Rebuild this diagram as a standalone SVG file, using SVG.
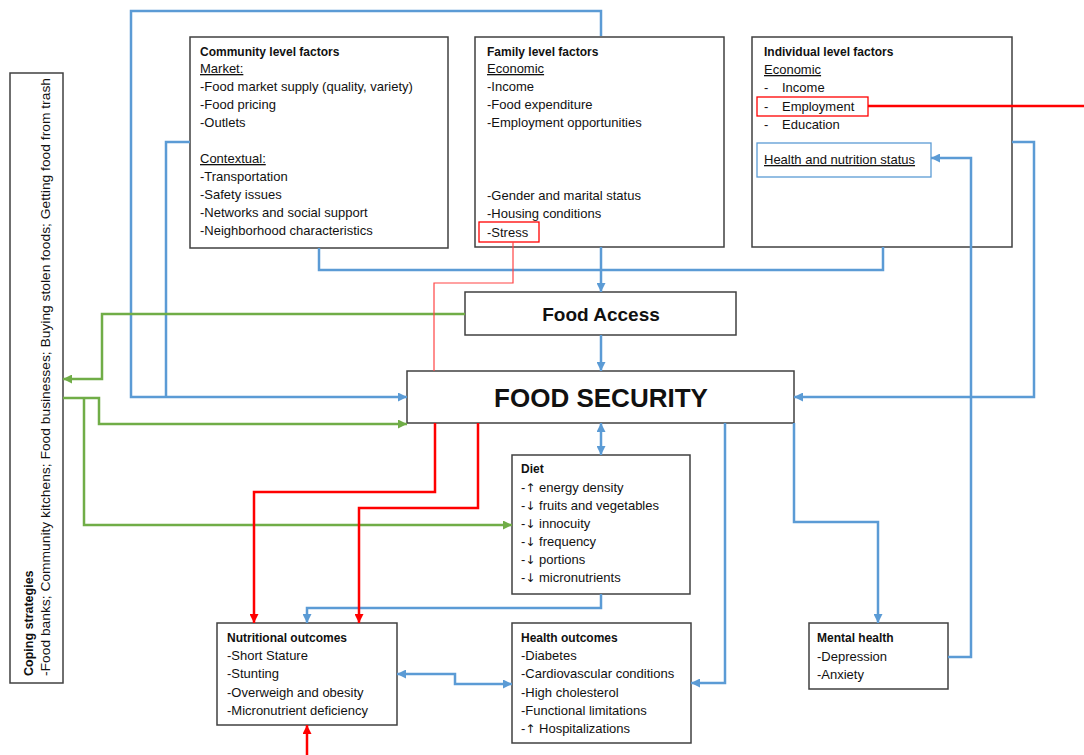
<svg xmlns="http://www.w3.org/2000/svg" width="1084" height="755" viewBox="0 0 1084 755">
<style>
text{font-family:"Liberation Sans",Arial,sans-serif;font-size:13px;fill:#111}
.b{font-weight:bold;font-size:12px}
.u{text-decoration:underline}
.ar{font-family:"DejaVu Sans",sans-serif;font-size:12px}
.box{fill:#fff;stroke:#404040;stroke-width:1.5}
.bl{fill:none;stroke:#5B9BD5;stroke-width:2.5}
.gr{fill:none;stroke:#70AD47;stroke-width:2.5}
.rd{fill:none;stroke:#FF0000;stroke-width:2.5}
.rt{fill:none;stroke:#FF4444;stroke-width:1.2}
</style>
<defs>
<marker id="ab" viewBox="0 0 10 10" refX="10" refY="5" markerWidth="9" markerHeight="9" markerUnits="userSpaceOnUse" orient="auto-start-reverse"><path d="M0,0 L10,5 L0,10 z" fill="#5B9BD5"/></marker>
<marker id="ag" viewBox="0 0 10 10" refX="10" refY="5" markerWidth="9" markerHeight="9" markerUnits="userSpaceOnUse" orient="auto-start-reverse"><path d="M0,0 L10,5 L0,10 z" fill="#70AD47"/></marker>
<marker id="ar" viewBox="0 0 10 10" refX="10" refY="5" markerWidth="9" markerHeight="9" markerUnits="userSpaceOnUse" orient="auto-start-reverse"><path d="M0,0 L10,5 L0,10 z" fill="#FF0000"/></marker>
</defs>
<rect width="1084" height="755" fill="#fff"/>

<g id="coping">
<rect class="box" x="10" y="73" width="53" height="610"/>
<text class="b" transform="translate(33,676) rotate(-90)" style="font-size:12.5px">Coping strategies</text>
<text transform="translate(50,676) rotate(-90)" textLength="598" lengthAdjust="spacingAndGlyphs">-Food banks; Community kitchens; Food businesses;  Buying stolen foods; Getting food from trash</text>
</g>

<g id="community">
<rect class="box" x="190" y="37" width="258" height="211"/>
<text class="b" x="200" y="56">Community level factors</text>
<text class="u" x="200" y="73">Market:</text>
<text x="200" y="91">-Food market supply (quality, variety)</text>
<text x="200" y="109">-Food pricing</text>
<text x="200" y="127">-Outlets</text>
<text class="u" x="200" y="163">Contextual:</text>
<text x="200" y="181">-Transportation</text>
<text x="200" y="199">-Safety issues</text>
<text x="200" y="217">-Networks and social support</text>
<text x="200" y="235">-Neighborhood characteristics</text>
</g>

<g id="family">
<rect class="box" x="475" y="37" width="249" height="210"/>
<text class="b" x="487" y="56">Family level factors</text>
<text class="u" x="487" y="73">Economic</text>
<text x="487" y="91">-Income</text>
<text x="487" y="109">-Food expenditure</text>
<text x="487" y="127">-Employment opportunities</text>
<text x="487" y="200">-Gender and marital status</text>
<text x="487" y="218">-Housing conditions</text>
<rect x="479" y="222" width="60" height="20" fill="none" stroke="#FF0000" stroke-width="1.3"/>
<text x="487" y="237">-Stress</text>
</g>

<g id="individual">
<rect class="box" x="752" y="37" width="260" height="210"/>
<text class="b" x="764" y="56">Individual level factors</text>
<text class="u" x="764" y="74">Economic</text>
<text x="764" y="92">-</text><text x="782" y="92">Income</text>
<rect x="757" y="97" width="111" height="19" fill="none" stroke="#FF0000" stroke-width="1.3"/>
<text x="764" y="111">-</text><text x="782" y="111">Employment</text>
<text x="764" y="129">-</text><text x="782" y="129">Education</text>
<rect x="757" y="143" width="174" height="34" fill="#fff" stroke="#5B9BD5" stroke-width="1.3"/>
<text class="u" x="764" y="164">Health and nutrition status</text>
</g>

<g id="food-access">
<rect class="box" x="465" y="292" width="271" height="43"/>
<text class="b" x="601" y="321" text-anchor="middle" style="font-size:19px">Food Access</text>
</g>

<g id="food-security">
<rect class="box" x="407" y="371" width="387" height="52"/>
<text class="b" x="601" y="407" text-anchor="middle" style="font-size:26px">FOOD SECURITY</text>
</g>

<g id="diet">
<rect class="box" x="512" y="455" width="178" height="139"/>
<text class="b" x="521" y="473">Diet</text>
<text x="521" y="492">-<tspan class="ar">↑</tspan> energy density</text>
<text x="521" y="510">-<tspan class="ar">↓</tspan> fruits and vegetables</text>
<text x="521" y="528">-<tspan class="ar">↓</tspan> innocuity</text>
<text x="521" y="546">-<tspan class="ar">↓</tspan> frequency</text>
<text x="521" y="564">-<tspan class="ar">↓</tspan> portions</text>
<text x="521" y="582">-<tspan class="ar">↓</tspan> micronutrients</text>
</g>

<g id="nutritional">
<rect class="box" x="217" y="623" width="180" height="102"/>
<text class="b" x="227" y="642">Nutritional outcomes</text>
<text x="227" y="660">-Short Stature</text>
<text x="227" y="678">-Stunting</text>
<text x="227" y="697">-Overweigh and obesity</text>
<text x="227" y="715">-Micronutrient deficiency</text>
</g>

<g id="health">
<rect class="box" x="512" y="623" width="179" height="120"/>
<text class="b" x="521" y="642">Health outcomes</text>
<text x="521" y="660">-Diabetes</text>
<text x="521" y="678">-Cardiovascular  conditions</text>
<text x="521" y="697">-High cholesterol</text>
<text x="521" y="715">-Functional limitations</text>
<text x="521" y="733">-<tspan class="ar">↑</tspan> Hospitalizations</text>
</g>

<g id="mental">
<rect class="box" x="809" y="623" width="139" height="66"/>
<text class="b" x="817" y="642">Mental health</text>
<text x="817" y="661">-Depression</text>
<text x="817" y="679">-Anxiety</text>
</g>

<g id="connectors">
<path class="bl" d="M601,36 V11 H131 V397 H407" marker-end="url(#ab)"/>
<path class="bl" d="M190,142 H166 V397"/>
<path class="bl" d="M319,248 V270 H883 V247"/>
<path class="bl" d="M601,247 V292" marker-end="url(#ab)"/>
<path class="bl" d="M601,335 V371" marker-end="url(#ab)"/>
<path class="bl" d="M1012,142 H1034 V397 H794" marker-end="url(#ab)"/>
<path class="bl" d="M601,423 V455" marker-start="url(#ab)" marker-end="url(#ab)"/>
<path class="bl" d="M601,594 V608 H307 V623" marker-end="url(#ab)"/>
<path class="bl" d="M725,423 V683 H691" marker-end="url(#ab)"/>
<path class="bl" d="M794,423 V522 H878 V623" marker-end="url(#ab)"/>
<path class="bl" d="M948,657 H971 V158 H931" marker-end="url(#ab)"/>
<path class="bl" d="M397,674 H455 V684 H512" marker-start="url(#ab)" marker-end="url(#ab)"/>
<path class="gr" d="M465,314 H102 V379 H63" marker-end="url(#ag)"/>
<path class="gr" d="M63,398 H99 V424 H407" marker-end="url(#ag)"/>
<path class="gr" d="M84,398 V525 H512" marker-end="url(#ag)"/>
<path class="rd" d="M435,423 V492 H254 V623" marker-end="url(#ar)"/>
<path class="rd" d="M478,423 V508 H359 V623" marker-end="url(#ar)"/>
<path class="rd" d="M307,755 V725" marker-end="url(#ar)"/>
<path class="rd" d="M868,106 H1084" stroke-width="2"/>
<path class="rt" d="M513,242 V283 H434 V371"/>
</g>
</svg>
